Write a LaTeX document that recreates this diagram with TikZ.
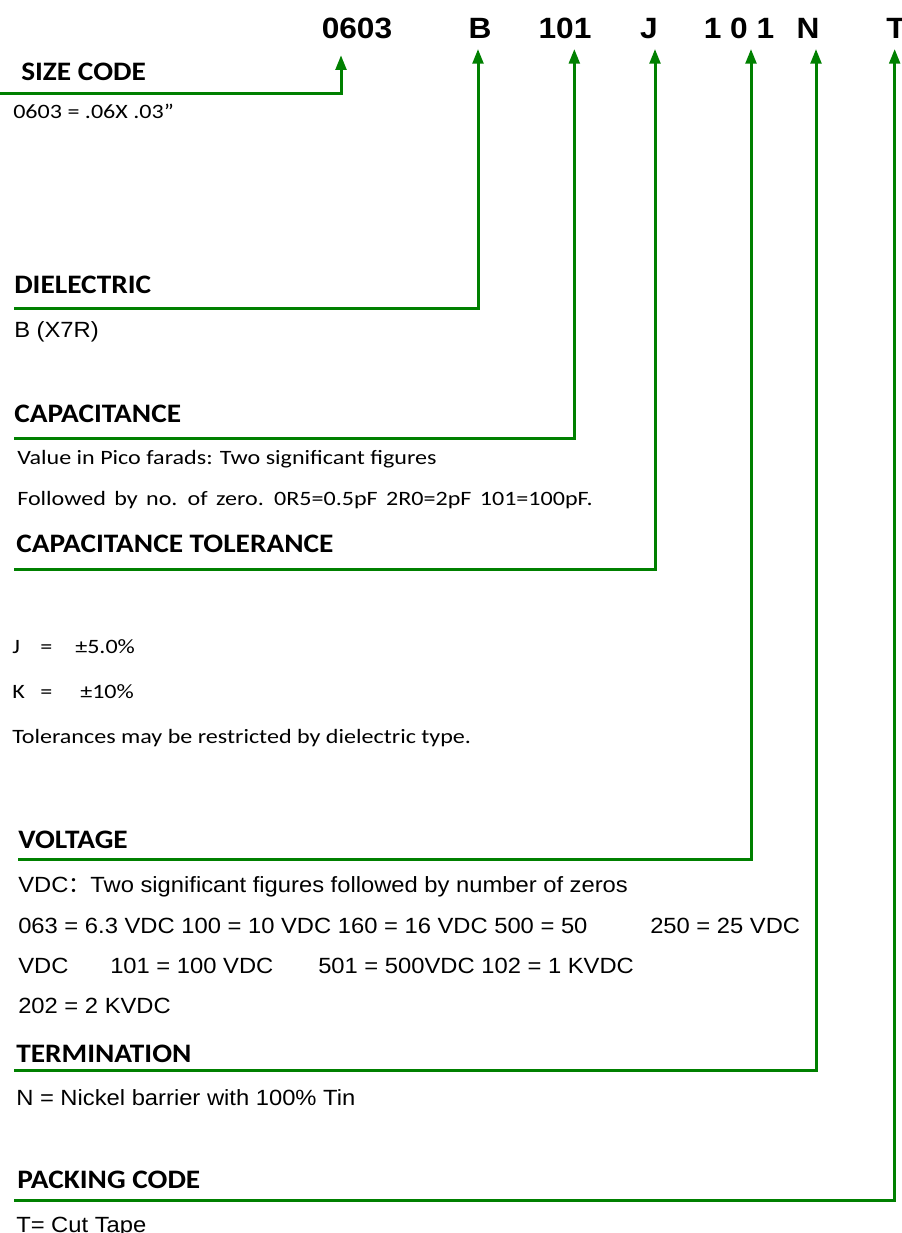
\documentclass[tikz,border=0pt]{standalone}
\usepackage{fontspec}
\setmainfont{Liberation Sans}
\newfontfamily\codefont[FakeStretch=1.08]{Liberation Sans}
\newfontfamily\headfont[FakeStretch=1.1]{Carlito}
\newfontfamily\calibri[FakeStretch=1.18]{Carlito}
\newfontfamily\arial[FakeStretch=1.08]{Liberation Sans}
\newfontfamily\cjk{Noto Sans CJK SC}
\usetikzlibrary{arrows.meta}
\definecolor{leadgreen}{HTML}{008000}

\begin{document}
\begin{tikzpicture}[
  x=0.75pt, y=-0.75pt,
  code/.style={anchor=base, font=\codefont\fontsize{22}{26}\bfseries, inner xsep=0pt, inner ysep=8pt, text depth=0pt},
  head/.style={anchor=base west, font=\headfont\fontsize{20}{24}\bfseries, inner sep=0pt},
  desc/.style={anchor=base west, font=\calibri\fontsize{15.3}{18}\selectfont, inner sep=0pt},
  spec/.style={anchor=base west, font=\arial\fontsize{16.5}{19}\selectfont, inner sep=0pt},
  lead/.style={-{Triangle[length=11pt,width=8pt]}, line width=2.25pt, draw=leadgreen}
]
\useasboundingbox (0,0) rectangle (902,1233);

% part number
\node[code] (c0603) at (357,38) {0603};
\node[code] (cB) at (480,38) {B};
\node[code] (cCap) at (565,38) {101};
\node[code] (cJ) at (649,38) {J};
\node[code] (cVolt) at (739,38) {1 0 1};
\node[code] (cN) at (808,38) {N};
\node[code] (cT) at (896,38) {T};

% size code
\node[head] (size) at (21,80) {SIZE CODE};
\coordinate (sizeL) at (0,93);
\node[desc] (sizeTxt) at (13,118) {0603 = .06X .03”};

% dielectric
\node[head] (diel) at (14,293) {DIELECTRIC};
\coordinate (dielL) at (14,308);
\node[spec] (dielTxt) at (14,337) {B (X7R)};

% capacitance
\node[head] (cap) at (14,422) {CAPACITANCE};
\coordinate (capL) at (14,438);
\node[desc] (capTxtA) at (17,464) {Value in Pico farads: Two significant figures};
\node[desc] (capTxtB) at (17,505) {\spaceskip=6.3pt Followed by no. of zero. 0R5=0.5pF 2R0=2pF 101=100pF.};

% tolerance
\node[head] (tol) at (16,552) {CAPACITANCE TOLERANCE};
\coordinate (tolL) at (14,569);
\node[desc] (tolJ) at (12,653) {J};
\node[desc] (tolJeq) at (40,653) {=};
\node[desc] (tolJval) at (75,653) {±5.0\%};
\node[desc] (tolK) at (12,698) {K};
\node[desc] (tolKeq) at (40,698) {=};
\node[desc] (tolKval) at (80,698) {±10\%};
\node[desc] (tolNote) at (12,743) {Tolerances may be restricted by dielectric type.};

% voltage
\node[head] (volt) at (18,848) {VOLTAGE};
\coordinate (voltL) at (18,859);
\node[spec] (voltA) at (18,892) {VDC{\cjk ：}Two significant figures followed by number of zeros};
\node[spec] (voltB) at (18,933) {063 = 6.3 VDC 100 = 10 VDC 160 = 16 VDC 500 = 50};
\node[spec] (voltC) at (650,933) {250 = 25 VDC};
\node[spec] (voltD) at (18,973) {VDC};
\node[spec] (voltE) at (110,973) {101 = 100 VDC};
\node[spec] (voltF) at (318,973) {501 = 500VDC 102 = 1 KVDC};
\node[spec] (voltG) at (18,1013) {202 = 2 KVDC};

% termination
\node[head] (term) at (16,1062) {TERMINATION};
\coordinate (termL) at (14,1070);
\node[spec] (termTxt) at (16,1105) {N = Nickel barrier with 100\%\ Tin};

% packing
\node[head] (pack) at (17,1188) {PACKING CODE};
\coordinate (packL) at (14,1200);
\node[spec] (packTxt) at (16,1232) {T= Cut Tape};

\draw[lead] (sizeL) -| ([xshift=-12pt,yshift=-4.7pt]c0603.south);
\draw[lead] (dielL) -| ([xshift=-1.5pt]cB.south);
\draw[lead] (capL) -| ([xshift=7pt]cCap.south);
\draw[lead] (tolL) -| ([xshift=4.5pt]cJ.south);
\draw[lead] (voltL) -| ([xshift=9pt]cVolt.south);
\draw[lead] (termL) -| ([xshift=6pt]cN.south);
\draw[lead] (packL) -| ([xshift=-1pt]cT.south);

\end{tikzpicture}
\end{document}
